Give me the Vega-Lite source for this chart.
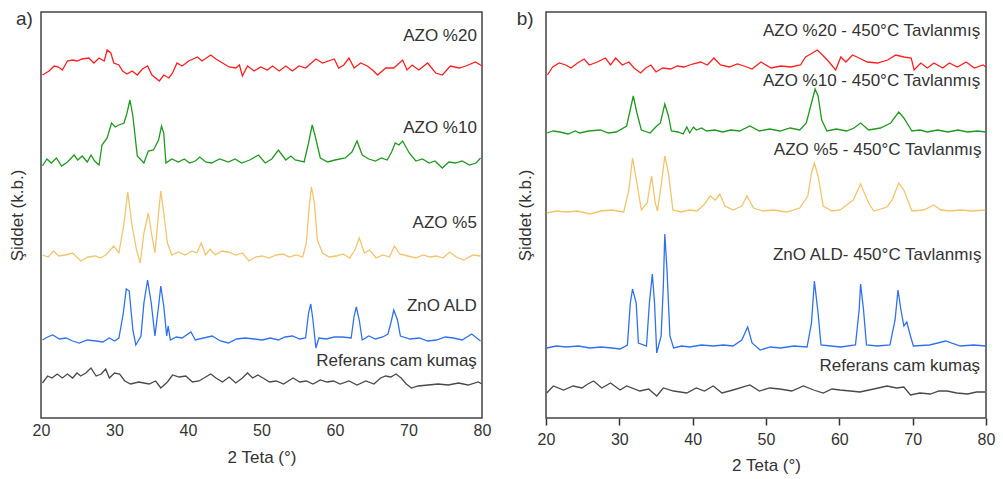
{
"$schema": "https://vega.github.io/schema/vega-lite/v6.json",
"padding": {"left": 7, "top": 9, "right": 5, "bottom": 0},
"spacing": 23,
"config": {"view": {"stroke": "#444", "strokeWidth": 1.5}, "font": "Liberation Sans"},
"datasets": {
"a": [
{"t":20.2,"v":343,"s":"r"},{"t":21.1,"v":347,"s":"r"},{"t":21.8,"v":352,"s":"r"},{"t":22.4,"v":351,"s":"r"},{"t":22.9,"v":348,"s":"r"},{"t":23.6,"v":357,"s":"r"},{"t":24.3,"v":358,"s":"r"},{"t":24.9,"v":357,"s":"r"},{"t":25.6,"v":359,"s":"r"},{"t":26.5,"v":360,"s":"r"},{"t":27.2,"v":355,"s":"r"},{"t":27.9,"v":360,"s":"r"},{"t":28.6,"v":357,"s":"r"},{"t":29.0,"v":368,"s":"r"},{"t":29.5,"v":365,"s":"r"},{"t":29.9,"v":355,"s":"r"},{"t":30.6,"v":353,"s":"r"},{"t":31.1,"v":347,"s":"r"},{"t":31.7,"v":344,"s":"r"},{"t":32.4,"v":347,"s":"r"},{"t":33.1,"v":343,"s":"r"},{"t":33.8,"v":349,"s":"r"},{"t":34.5,"v":352,"s":"r"},{"t":35.1,"v":343,"s":"r"},{"t":36.1,"v":337,"s":"r"},{"t":36.7,"v":343,"s":"r"},{"t":37.4,"v":340,"s":"r"},{"t":37.9,"v":345,"s":"r"},{"t":38.5,"v":355,"s":"r"},{"t":39.2,"v":352,"s":"r"},{"t":40.1,"v":357,"s":"r"},{"t":41.3,"v":361,"s":"r"},{"t":41.9,"v":357,"s":"r"},{"t":43.1,"v":363,"s":"r"},{"t":43.8,"v":359,"s":"r"},{"t":44.7,"v":355,"s":"r"},{"t":45.6,"v":351,"s":"r"},{"t":46.5,"v":350,"s":"r"},{"t":47.0,"v":353,"s":"r"},{"t":47.4,"v":342,"s":"r"},{"t":48.1,"v":352,"s":"r"},{"t":49.0,"v":347,"s":"r"},{"t":49.9,"v":351,"s":"r"},{"t":50.8,"v":348,"s":"r"},{"t":51.5,"v":352,"s":"r"},{"t":52.4,"v":347,"s":"r"},{"t":53.3,"v":352,"s":"r"},{"t":54.2,"v":347,"s":"r"},{"t":55.1,"v":352,"s":"r"},{"t":56.0,"v":350,"s":"r"},{"t":57.4,"v":359,"s":"r"},{"t":58.3,"v":355,"s":"r"},{"t":59.9,"v":359,"s":"r"},{"t":60.5,"v":350,"s":"r"},{"t":61.2,"v":353,"s":"r"},{"t":61.9,"v":360,"s":"r"},{"t":62.6,"v":350,"s":"r"},{"t":63.5,"v":355,"s":"r"},{"t":64.4,"v":352,"s":"r"},{"t":65.1,"v":348,"s":"r"},{"t":65.8,"v":343,"s":"r"},{"t":66.9,"v":350,"s":"r"},{"t":68.0,"v":350,"s":"r"},{"t":69.2,"v":358,"s":"r"},{"t":69.8,"v":348,"s":"r"},{"t":70.5,"v":353,"s":"r"},{"t":71.4,"v":348,"s":"r"},{"t":72.6,"v":355,"s":"r"},{"t":73.7,"v":345,"s":"r"},{"t":74.6,"v":343,"s":"r"},{"t":75.7,"v":352,"s":"r"},{"t":76.9,"v":350,"s":"r"},{"t":77.8,"v":352,"s":"r"},{"t":79.1,"v":356,"s":"r"},{"t":80.0,"v":352,"s":"r"},
{"t":20.2,"v":252,"s":"g"},{"t":20.8,"v":259,"s":"g"},{"t":21.4,"v":255,"s":"g"},{"t":22.1,"v":260,"s":"g"},{"t":22.8,"v":252,"s":"g"},{"t":23.6,"v":256,"s":"g"},{"t":24.5,"v":263,"s":"g"},{"t":25.0,"v":258,"s":"g"},{"t":25.6,"v":262,"s":"g"},{"t":26.3,"v":256,"s":"g"},{"t":26.8,"v":263,"s":"g"},{"t":27.3,"v":257,"s":"g"},{"t":27.9,"v":253,"s":"g"},{"t":28.3,"v":273,"s":"g"},{"t":29.0,"v":280,"s":"g"},{"t":29.6,"v":295,"s":"g"},{"t":30.1,"v":291,"s":"g"},{"t":30.6,"v":293,"s":"g"},{"t":31.3,"v":295,"s":"g"},{"t":31.7,"v":305,"s":"g"},{"t":32.1,"v":318,"s":"g"},{"t":32.5,"v":302,"s":"g"},{"t":33.1,"v":262,"s":"g"},{"t":34.0,"v":255,"s":"g"},{"t":34.6,"v":267,"s":"g"},{"t":35.3,"v":268,"s":"g"},{"t":36.0,"v":278,"s":"g"},{"t":36.4,"v":292,"s":"g"},{"t":36.7,"v":285,"s":"g"},{"t":37.0,"v":255,"s":"g"},{"t":37.8,"v":259,"s":"g"},{"t":38.7,"v":256,"s":"g"},{"t":39.5,"v":259,"s":"g"},{"t":40.2,"v":255,"s":"g"},{"t":41.0,"v":257,"s":"g"},{"t":41.6,"v":261,"s":"g"},{"t":42.4,"v":256,"s":"g"},{"t":43.2,"v":255,"s":"g"},{"t":44.3,"v":259,"s":"g"},{"t":45.5,"v":256,"s":"g"},{"t":46.4,"v":259,"s":"g"},{"t":47.3,"v":255,"s":"g"},{"t":48.4,"v":258,"s":"g"},{"t":49.6,"v":263,"s":"g"},{"t":50.5,"v":255,"s":"g"},{"t":51.4,"v":259,"s":"g"},{"t":52.3,"v":268,"s":"g"},{"t":53.3,"v":258,"s":"g"},{"t":54.0,"v":262,"s":"g"},{"t":54.6,"v":258,"s":"g"},{"t":55.8,"v":256,"s":"g"},{"t":56.4,"v":275,"s":"g"},{"t":56.9,"v":293,"s":"g"},{"t":57.3,"v":282,"s":"g"},{"t":58.0,"v":260,"s":"g"},{"t":59.0,"v":256,"s":"g"},{"t":60.0,"v":258,"s":"g"},{"t":61.4,"v":260,"s":"g"},{"t":62.3,"v":266,"s":"g"},{"t":63.0,"v":277,"s":"g"},{"t":63.7,"v":263,"s":"g"},{"t":64.6,"v":259,"s":"g"},{"t":65.5,"v":257,"s":"g"},{"t":66.3,"v":260,"s":"g"},{"t":67.1,"v":258,"s":"g"},{"t":67.7,"v":266,"s":"g"},{"t":68.2,"v":275,"s":"g"},{"t":68.7,"v":273,"s":"g"},{"t":69.2,"v":277,"s":"g"},{"t":70.1,"v":265,"s":"g"},{"t":71.0,"v":257,"s":"g"},{"t":71.9,"v":259,"s":"g"},{"t":72.8,"v":255,"s":"g"},{"t":73.6,"v":257,"s":"g"},{"t":74.6,"v":250,"s":"g"},{"t":75.5,"v":256,"s":"g"},{"t":76.4,"v":255,"s":"g"},{"t":77.3,"v":257,"s":"g"},{"t":78.3,"v":253,"s":"g"},{"t":79.2,"v":255,"s":"g"},{"t":79.8,"v":260,"s":"g"},
{"t":20.2,"v":163,"s":"y"},{"t":21.0,"v":161,"s":"y"},{"t":21.7,"v":167,"s":"y"},{"t":22.4,"v":162,"s":"y"},{"t":23.3,"v":163,"s":"y"},{"t":24.3,"v":165,"s":"y"},{"t":25.4,"v":157,"s":"y"},{"t":26.4,"v":161,"s":"y"},{"t":27.4,"v":162,"s":"y"},{"t":28.1,"v":160,"s":"y"},{"t":28.8,"v":163,"s":"y"},{"t":29.9,"v":172,"s":"y"},{"t":30.6,"v":165,"s":"y"},{"t":31.3,"v":195,"s":"y"},{"t":31.8,"v":226,"s":"y"},{"t":32.4,"v":192,"s":"y"},{"t":33.0,"v":168,"s":"y"},{"t":33.5,"v":155,"s":"y"},{"t":34.0,"v":185,"s":"y"},{"t":34.6,"v":205,"s":"y"},{"t":35.1,"v":182,"s":"y"},{"t":35.5,"v":165,"s":"y"},{"t":36.0,"v":205,"s":"y"},{"t":36.3,"v":227,"s":"y"},{"t":36.7,"v":205,"s":"y"},{"t":37.2,"v":175,"s":"y"},{"t":37.8,"v":163,"s":"y"},{"t":38.7,"v":166,"s":"y"},{"t":39.6,"v":163,"s":"y"},{"t":40.5,"v":167,"s":"y"},{"t":41.2,"v":165,"s":"y"},{"t":41.8,"v":175,"s":"y"},{"t":42.4,"v":163,"s":"y"},{"t":43.0,"v":169,"s":"y"},{"t":43.7,"v":163,"s":"y"},{"t":44.6,"v":167,"s":"y"},{"t":45.5,"v":166,"s":"y"},{"t":46.5,"v":163,"s":"y"},{"t":47.4,"v":165,"s":"y"},{"t":48.3,"v":157,"s":"y"},{"t":49.2,"v":161,"s":"y"},{"t":50.1,"v":162,"s":"y"},{"t":51.0,"v":160,"s":"y"},{"t":52.0,"v":163,"s":"y"},{"t":52.9,"v":164,"s":"y"},{"t":53.8,"v":161,"s":"y"},{"t":54.7,"v":163,"s":"y"},{"t":55.6,"v":161,"s":"y"},{"t":56.1,"v":175,"s":"y"},{"t":56.5,"v":212,"s":"y"},{"t":56.8,"v":231,"s":"y"},{"t":57.2,"v":215,"s":"y"},{"t":57.6,"v":178,"s":"y"},{"t":58.3,"v":165,"s":"y"},{"t":59.2,"v":161,"s":"y"},{"t":60.2,"v":162,"s":"y"},{"t":61.1,"v":164,"s":"y"},{"t":62.0,"v":160,"s":"y"},{"t":62.7,"v":168,"s":"y"},{"t":63.3,"v":180,"s":"y"},{"t":64.0,"v":165,"s":"y"},{"t":64.7,"v":168,"s":"y"},{"t":65.6,"v":160,"s":"y"},{"t":66.5,"v":163,"s":"y"},{"t":67.4,"v":161,"s":"y"},{"t":68.1,"v":172,"s":"y"},{"t":68.8,"v":164,"s":"y"},{"t":69.9,"v":162,"s":"y"},{"t":71.0,"v":160,"s":"y"},{"t":72.0,"v":163,"s":"y"},{"t":72.9,"v":161,"s":"y"},{"t":73.8,"v":162,"s":"y"},{"t":74.7,"v":160,"s":"y"},{"t":75.6,"v":166,"s":"y"},{"t":76.5,"v":161,"s":"y"},{"t":77.5,"v":158,"s":"y"},{"t":78.8,"v":163,"s":"y"},{"t":79.8,"v":162,"s":"y"},
{"t":20.2,"v":78,"s":"b"},{"t":20.9,"v":81,"s":"b"},{"t":21.6,"v":83,"s":"b"},{"t":22.5,"v":79,"s":"b"},{"t":23.4,"v":80,"s":"b"},{"t":24.3,"v":77,"s":"b"},{"t":25.2,"v":75,"s":"b"},{"t":26.3,"v":78,"s":"b"},{"t":27.5,"v":77,"s":"b"},{"t":28.4,"v":76,"s":"b"},{"t":29.3,"v":80,"s":"b"},{"t":30.0,"v":77,"s":"b"},{"t":30.6,"v":80,"s":"b"},{"t":31.2,"v":105,"s":"b"},{"t":31.6,"v":129,"s":"b"},{"t":32.0,"v":127,"s":"b"},{"t":32.5,"v":88,"s":"b"},{"t":32.9,"v":73,"s":"b"},{"t":33.6,"v":82,"s":"b"},{"t":34.0,"v":115,"s":"b"},{"t":34.5,"v":138,"s":"b"},{"t":35.0,"v":115,"s":"b"},{"t":35.5,"v":82,"s":"b"},{"t":36.0,"v":112,"s":"b"},{"t":36.3,"v":132,"s":"b"},{"t":36.7,"v":112,"s":"b"},{"t":37.1,"v":82,"s":"b"},{"t":37.3,"v":92,"s":"b"},{"t":37.6,"v":78,"s":"b"},{"t":38.4,"v":81,"s":"b"},{"t":39.2,"v":80,"s":"b"},{"t":40.4,"v":86,"s":"b"},{"t":41.0,"v":78,"s":"b"},{"t":42.1,"v":80,"s":"b"},{"t":43.3,"v":82,"s":"b"},{"t":44.4,"v":77,"s":"b"},{"t":45.5,"v":75,"s":"b"},{"t":46.6,"v":79,"s":"b"},{"t":47.8,"v":80,"s":"b"},{"t":49.0,"v":79,"s":"b"},{"t":50.1,"v":78,"s":"b"},{"t":51.2,"v":80,"s":"b"},{"t":52.3,"v":78,"s":"b"},{"t":53.2,"v":81,"s":"b"},{"t":54.2,"v":82,"s":"b"},{"t":55.2,"v":79,"s":"b"},{"t":56.0,"v":80,"s":"b"},{"t":56.4,"v":105,"s":"b"},{"t":56.7,"v":114,"s":"b"},{"t":57.0,"v":98,"s":"b"},{"t":57.4,"v":70,"s":"b"},{"t":57.8,"v":80,"s":"b"},{"t":58.8,"v":79,"s":"b"},{"t":59.9,"v":81,"s":"b"},{"t":61.0,"v":81,"s":"b"},{"t":62.2,"v":80,"s":"b"},{"t":62.6,"v":102,"s":"b"},{"t":62.9,"v":111,"s":"b"},{"t":63.3,"v":98,"s":"b"},{"t":63.7,"v":78,"s":"b"},{"t":64.6,"v":82,"s":"b"},{"t":65.5,"v":79,"s":"b"},{"t":66.5,"v":81,"s":"b"},{"t":67.2,"v":84,"s":"b"},{"t":67.6,"v":95,"s":"b"},{"t":68.0,"v":108,"s":"b"},{"t":68.5,"v":98,"s":"b"},{"t":68.9,"v":82,"s":"b"},{"t":70.2,"v":79,"s":"b"},{"t":71.5,"v":80,"s":"b"},{"t":72.6,"v":77,"s":"b"},{"t":73.8,"v":78,"s":"b"},{"t":75.0,"v":81,"s":"b"},{"t":76.1,"v":80,"s":"b"},{"t":77.3,"v":78,"s":"b"},{"t":78.6,"v":84,"s":"b"},{"t":79.8,"v":77,"s":"b"},
{"t":20.2,"v":35,"s":"k"},{"t":20.9,"v":42,"s":"k"},{"t":21.5,"v":40,"s":"k"},{"t":22.2,"v":44,"s":"k"},{"t":22.9,"v":40,"s":"k"},{"t":23.6,"v":44,"s":"k"},{"t":24.3,"v":40,"s":"k"},{"t":24.9,"v":45,"s":"k"},{"t":25.4,"v":42,"s":"k"},{"t":26.1,"v":45,"s":"k"},{"t":26.8,"v":50,"s":"k"},{"t":27.5,"v":42,"s":"k"},{"t":28.2,"v":44,"s":"k"},{"t":28.8,"v":49,"s":"k"},{"t":29.3,"v":40,"s":"k"},{"t":30.0,"v":45,"s":"k"},{"t":30.7,"v":44,"s":"k"},{"t":31.4,"v":37,"s":"k"},{"t":32.2,"v":34,"s":"k"},{"t":33.3,"v":36,"s":"k"},{"t":34.7,"v":34,"s":"k"},{"t":35.6,"v":37,"s":"k"},{"t":36.3,"v":30,"s":"k"},{"t":37.2,"v":36,"s":"k"},{"t":37.9,"v":43,"s":"k"},{"t":38.8,"v":41,"s":"k"},{"t":39.7,"v":42,"s":"k"},{"t":40.6,"v":36,"s":"k"},{"t":41.5,"v":37,"s":"k"},{"t":42.4,"v":41,"s":"k"},{"t":43.1,"v":44,"s":"k"},{"t":43.8,"v":40,"s":"k"},{"t":44.7,"v":36,"s":"k"},{"t":45.6,"v":41,"s":"k"},{"t":46.5,"v":35,"s":"k"},{"t":47.4,"v":40,"s":"k"},{"t":48.1,"v":45,"s":"k"},{"t":48.8,"v":40,"s":"k"},{"t":49.5,"v":43,"s":"k"},{"t":50.2,"v":40,"s":"k"},{"t":51.1,"v":36,"s":"k"},{"t":52.0,"v":37,"s":"k"},{"t":53.0,"v":34,"s":"k"},{"t":54.3,"v":40,"s":"k"},{"t":55.2,"v":36,"s":"k"},{"t":56.1,"v":37,"s":"k"},{"t":57.0,"v":34,"s":"k"},{"t":58.0,"v":38,"s":"k"},{"t":58.9,"v":36,"s":"k"},{"t":59.8,"v":37,"s":"k"},{"t":60.7,"v":34,"s":"k"},{"t":61.9,"v":37,"s":"k"},{"t":63.0,"v":33,"s":"k"},{"t":64.2,"v":37,"s":"k"},{"t":65.3,"v":34,"s":"k"},{"t":66.2,"v":40,"s":"k"},{"t":66.9,"v":42,"s":"k"},{"t":67.6,"v":41,"s":"k"},{"t":68.3,"v":44,"s":"k"},{"t":69.0,"v":40,"s":"k"},{"t":69.7,"v":34,"s":"k"},{"t":70.4,"v":30,"s":"k"},{"t":71.3,"v":32,"s":"k"},{"t":72.7,"v":33,"s":"k"},{"t":74.0,"v":34,"s":"k"},{"t":75.4,"v":33,"s":"k"},{"t":76.8,"v":35,"s":"k"},{"t":78.1,"v":33,"s":"k"},{"t":79.5,"v":36,"s":"k"},{"t":80.0,"v":34,"s":"k"}
],
"b": [
{"t":20.2,"v":343,"s":"r"},{"t":20.9,"v":351,"s":"r"},{"t":21.8,"v":355,"s":"r"},{"t":22.7,"v":353,"s":"r"},{"t":23.4,"v":350,"s":"r"},{"t":24.3,"v":355,"s":"r"},{"t":25.2,"v":359,"s":"r"},{"t":25.9,"v":353,"s":"r"},{"t":27.0,"v":356,"s":"r"},{"t":28.1,"v":360,"s":"r"},{"t":28.8,"v":353,"s":"r"},{"t":29.5,"v":360,"s":"r"},{"t":30.4,"v":353,"s":"r"},{"t":31.3,"v":356,"s":"r"},{"t":32.0,"v":350,"s":"r"},{"t":32.9,"v":345,"s":"r"},{"t":33.6,"v":350,"s":"r"},{"t":34.3,"v":353,"s":"r"},{"t":35.0,"v":346,"s":"r"},{"t":35.9,"v":350,"s":"r"},{"t":37.0,"v":349,"s":"r"},{"t":37.9,"v":352,"s":"r"},{"t":38.8,"v":351,"s":"r"},{"t":40.0,"v":354,"s":"r"},{"t":41.1,"v":356,"s":"r"},{"t":42.0,"v":353,"s":"r"},{"t":42.9,"v":360,"s":"r"},{"t":43.8,"v":353,"s":"r"},{"t":45.0,"v":351,"s":"r"},{"t":46.1,"v":354,"s":"r"},{"t":47.0,"v":352,"s":"r"},{"t":48.1,"v":349,"s":"r"},{"t":49.3,"v":356,"s":"r"},{"t":50.7,"v":350,"s":"r"},{"t":52.0,"v":352,"s":"r"},{"t":53.4,"v":351,"s":"r"},{"t":54.7,"v":353,"s":"r"},{"t":55.4,"v":361,"s":"r"},{"t":56.1,"v":364,"s":"r"},{"t":57.0,"v":368,"s":"r"},{"t":57.7,"v":363,"s":"r"},{"t":58.6,"v":356,"s":"r"},{"t":59.5,"v":348,"s":"r"},{"t":60.2,"v":361,"s":"r"},{"t":60.9,"v":356,"s":"r"},{"t":61.8,"v":363,"s":"r"},{"t":62.7,"v":360,"s":"r"},{"t":63.8,"v":356,"s":"r"},{"t":65.2,"v":355,"s":"r"},{"t":66.6,"v":358,"s":"r"},{"t":67.7,"v":363,"s":"r"},{"t":68.8,"v":361,"s":"r"},{"t":69.8,"v":360,"s":"r"},{"t":70.2,"v":348,"s":"r"},{"t":71.1,"v":355,"s":"r"},{"t":72.0,"v":350,"s":"r"},{"t":72.9,"v":355,"s":"r"},{"t":74.1,"v":350,"s":"r"},{"t":75.0,"v":355,"s":"r"},{"t":76.1,"v":351,"s":"r"},{"t":77.3,"v":356,"s":"r"},{"t":78.4,"v":350,"s":"r"},{"t":79.6,"v":353,"s":"r"},{"t":80.0,"v":351,"s":"r"},
{"t":20.1,"v":285,"s":"g"},{"t":21.0,"v":287,"s":"g"},{"t":21.9,"v":286,"s":"g"},{"t":23.0,"v":284,"s":"g"},{"t":24.0,"v":287,"s":"g"},{"t":24.6,"v":285,"s":"g"},{"t":25.8,"v":287,"s":"g"},{"t":27.4,"v":288,"s":"g"},{"t":28.5,"v":285,"s":"g"},{"t":29.6,"v":286,"s":"g"},{"t":31.0,"v":292,"s":"g"},{"t":31.6,"v":312,"s":"g"},{"t":31.9,"v":322,"s":"g"},{"t":32.4,"v":305,"s":"g"},{"t":33.0,"v":288,"s":"g"},{"t":34.2,"v":285,"s":"g"},{"t":35.1,"v":292,"s":"g"},{"t":35.6,"v":295,"s":"g"},{"t":36.2,"v":314,"s":"g"},{"t":36.7,"v":302,"s":"g"},{"t":37.1,"v":287,"s":"g"},{"t":38.0,"v":286,"s":"g"},{"t":38.7,"v":284,"s":"g"},{"t":39.2,"v":291,"s":"g"},{"t":39.6,"v":285,"s":"g"},{"t":40.1,"v":291,"s":"g"},{"t":40.5,"v":288,"s":"g"},{"t":41.2,"v":290,"s":"g"},{"t":41.9,"v":287,"s":"g"},{"t":43.0,"v":288,"s":"g"},{"t":44.1,"v":286,"s":"g"},{"t":45.2,"v":288,"s":"g"},{"t":46.4,"v":287,"s":"g"},{"t":47.8,"v":292,"s":"g"},{"t":49.1,"v":287,"s":"g"},{"t":50.5,"v":289,"s":"g"},{"t":51.9,"v":287,"s":"g"},{"t":53.3,"v":290,"s":"g"},{"t":54.6,"v":288,"s":"g"},{"t":55.5,"v":295,"s":"g"},{"t":56.2,"v":315,"s":"g"},{"t":56.7,"v":329,"s":"g"},{"t":57.1,"v":322,"s":"g"},{"t":57.6,"v":298,"s":"g"},{"t":58.3,"v":287,"s":"g"},{"t":59.6,"v":289,"s":"g"},{"t":61.0,"v":287,"s":"g"},{"t":62.0,"v":290,"s":"g"},{"t":62.9,"v":295,"s":"g"},{"t":64.0,"v":288,"s":"g"},{"t":65.6,"v":290,"s":"g"},{"t":67.0,"v":295,"s":"g"},{"t":68.1,"v":306,"s":"g"},{"t":68.8,"v":300,"s":"g"},{"t":69.9,"v":287,"s":"g"},{"t":71.0,"v":288,"s":"g"},{"t":72.0,"v":286,"s":"g"},{"t":73.4,"v":288,"s":"g"},{"t":74.8,"v":286,"s":"g"},{"t":76.2,"v":288,"s":"g"},{"t":77.5,"v":286,"s":"g"},{"t":78.8,"v":287,"s":"g"},{"t":80.0,"v":286,"s":"g"},
{"t":20.1,"v":205,"s":"y"},{"t":21.4,"v":207,"s":"y"},{"t":22.8,"v":206,"s":"y"},{"t":24.3,"v":207,"s":"y"},{"t":26.0,"v":204,"s":"y"},{"t":27.5,"v":207,"s":"y"},{"t":29.0,"v":208,"s":"y"},{"t":30.6,"v":206,"s":"y"},{"t":31.3,"v":228,"s":"y"},{"t":31.8,"v":260,"s":"y"},{"t":32.4,"v":235,"s":"y"},{"t":33.0,"v":208,"s":"y"},{"t":33.8,"v":215,"s":"y"},{"t":34.4,"v":242,"s":"y"},{"t":34.9,"v":215,"s":"y"},{"t":35.2,"v":207,"s":"y"},{"t":35.8,"v":238,"s":"y"},{"t":36.2,"v":262,"s":"y"},{"t":36.7,"v":245,"s":"y"},{"t":37.3,"v":208,"s":"y"},{"t":38.4,"v":206,"s":"y"},{"t":39.6,"v":208,"s":"y"},{"t":40.6,"v":207,"s":"y"},{"t":41.5,"v":213,"s":"y"},{"t":42.4,"v":222,"s":"y"},{"t":43.1,"v":218,"s":"y"},{"t":43.7,"v":224,"s":"y"},{"t":44.4,"v":212,"s":"y"},{"t":45.5,"v":208,"s":"y"},{"t":46.7,"v":212,"s":"y"},{"t":47.4,"v":222,"s":"y"},{"t":48.3,"v":210,"s":"y"},{"t":49.6,"v":207,"s":"y"},{"t":51.0,"v":208,"s":"y"},{"t":52.8,"v":206,"s":"y"},{"t":54.6,"v":210,"s":"y"},{"t":55.7,"v":222,"s":"y"},{"t":56.2,"v":245,"s":"y"},{"t":56.6,"v":255,"s":"y"},{"t":57.1,"v":242,"s":"y"},{"t":57.8,"v":212,"s":"y"},{"t":59.0,"v":207,"s":"y"},{"t":60.1,"v":208,"s":"y"},{"t":61.9,"v":218,"s":"y"},{"t":62.9,"v":234,"s":"y"},{"t":64.0,"v":215,"s":"y"},{"t":64.7,"v":207,"s":"y"},{"t":66.5,"v":211,"s":"y"},{"t":67.2,"v":218,"s":"y"},{"t":68.1,"v":235,"s":"y"},{"t":68.8,"v":228,"s":"y"},{"t":69.9,"v":207,"s":"y"},{"t":71.5,"v":208,"s":"y"},{"t":72.9,"v":213,"s":"y"},{"t":73.8,"v":208,"s":"y"},{"t":75.1,"v":207,"s":"y"},{"t":76.5,"v":208,"s":"y"},{"t":78.2,"v":207,"s":"y"},{"t":79.9,"v":208,"s":"y"},
{"t":20.1,"v":70,"s":"b"},{"t":21.4,"v":72,"s":"b"},{"t":22.8,"v":71,"s":"b"},{"t":24.4,"v":72,"s":"b"},{"t":26.0,"v":70,"s":"b"},{"t":27.5,"v":71,"s":"b"},{"t":29.0,"v":70,"s":"b"},{"t":30.1,"v":69,"s":"b"},{"t":31.1,"v":73,"s":"b"},{"t":31.5,"v":115,"s":"b"},{"t":31.8,"v":129,"s":"b"},{"t":32.3,"v":115,"s":"b"},{"t":32.6,"v":75,"s":"b"},{"t":33.7,"v":72,"s":"b"},{"t":34.1,"v":115,"s":"b"},{"t":34.5,"v":144,"s":"b"},{"t":34.8,"v":115,"s":"b"},{"t":35.1,"v":65,"s":"b"},{"t":35.7,"v":82,"s":"b"},{"t":36.0,"v":132,"s":"b"},{"t":36.2,"v":184,"s":"b"},{"t":36.5,"v":148,"s":"b"},{"t":36.9,"v":82,"s":"b"},{"t":37.4,"v":70,"s":"b"},{"t":38.5,"v":72,"s":"b"},{"t":39.6,"v":71,"s":"b"},{"t":41.2,"v":73,"s":"b"},{"t":42.8,"v":72,"s":"b"},{"t":44.2,"v":73,"s":"b"},{"t":45.5,"v":72,"s":"b"},{"t":46.7,"v":78,"s":"b"},{"t":47.5,"v":91,"s":"b"},{"t":48.1,"v":75,"s":"b"},{"t":49.2,"v":68,"s":"b"},{"t":50.6,"v":71,"s":"b"},{"t":52.0,"v":70,"s":"b"},{"t":53.8,"v":72,"s":"b"},{"t":55.6,"v":71,"s":"b"},{"t":56.2,"v":95,"s":"b"},{"t":56.6,"v":137,"s":"b"},{"t":57.1,"v":105,"s":"b"},{"t":57.5,"v":73,"s":"b"},{"t":58.8,"v":72,"s":"b"},{"t":60.2,"v":71,"s":"b"},{"t":62.2,"v":73,"s":"b"},{"t":62.7,"v":108,"s":"b"},{"t":62.9,"v":134,"s":"b"},{"t":63.3,"v":108,"s":"b"},{"t":63.7,"v":73,"s":"b"},{"t":65.2,"v":72,"s":"b"},{"t":66.9,"v":73,"s":"b"},{"t":67.6,"v":98,"s":"b"},{"t":68.0,"v":128,"s":"b"},{"t":68.4,"v":108,"s":"b"},{"t":68.8,"v":92,"s":"b"},{"t":69.2,"v":96,"s":"b"},{"t":69.7,"v":82,"s":"b"},{"t":70.1,"v":72,"s":"b"},{"t":72.3,"v":73,"s":"b"},{"t":74.5,"v":77,"s":"b"},{"t":76.5,"v":72,"s":"b"},{"t":78.3,"v":73,"s":"b"},{"t":80.0,"v":72,"s":"b"},
{"t":20.1,"v":25,"s":"k"},{"t":21.0,"v":32,"s":"k"},{"t":22.4,"v":28,"s":"k"},{"t":23.7,"v":32,"s":"k"},{"t":24.9,"v":30,"s":"k"},{"t":25.7,"v":34,"s":"k"},{"t":26.5,"v":37,"s":"k"},{"t":27.6,"v":30,"s":"k"},{"t":28.8,"v":35,"s":"k"},{"t":30.1,"v":28,"s":"k"},{"t":31.0,"v":32,"s":"k"},{"t":32.8,"v":27,"s":"k"},{"t":34.0,"v":29,"s":"k"},{"t":35.1,"v":22,"s":"k"},{"t":36.0,"v":30,"s":"k"},{"t":37.4,"v":27,"s":"k"},{"t":39.2,"v":25,"s":"k"},{"t":40.5,"v":30,"s":"k"},{"t":41.6,"v":27,"s":"k"},{"t":42.8,"v":32,"s":"k"},{"t":44.0,"v":25,"s":"k"},{"t":45.5,"v":28,"s":"k"},{"t":47.8,"v":33,"s":"k"},{"t":49.1,"v":27,"s":"k"},{"t":50.5,"v":30,"s":"k"},{"t":51.9,"v":29,"s":"k"},{"t":53.5,"v":27,"s":"k"},{"t":55.1,"v":32,"s":"k"},{"t":56.5,"v":28,"s":"k"},{"t":57.8,"v":25,"s":"k"},{"t":59.0,"v":29,"s":"k"},{"t":60.1,"v":28,"s":"k"},{"t":61.5,"v":27,"s":"k"},{"t":62.8,"v":26,"s":"k"},{"t":64.7,"v":29,"s":"k"},{"t":66.5,"v":32,"s":"k"},{"t":67.8,"v":30,"s":"k"},{"t":68.8,"v":31,"s":"k"},{"t":69.7,"v":23,"s":"k"},{"t":71.0,"v":25,"s":"k"},{"t":72.4,"v":24,"s":"k"},{"t":73.6,"v":27,"s":"k"},{"t":74.7,"v":27,"s":"k"},{"t":76.0,"v":25,"s":"k"},{"t":77.5,"v":24,"s":"k"},{"t":78.7,"v":26,"s":"k"},{"t":79.9,"v":26,"s":"k"}
],
"la": [
{"t":79.3,"v":382,"label":"AZO %20"},{"t":79.3,"v":290,"label":"AZO %10"},{"t":79.3,"v":195,"label":"AZO %5"},{"t":79.3,"v":112,"label":"ZnO ALD"},{"t":79.3,"v":57,"label":"Referans cam kumaş"}
],
"lb": [
{"t":79.2,"v":387,"label":"AZO %20 - 450°C Tavlanmış"},{"t":79.2,"v":337,"label":"AZO %10 - 450°C Tavlanmış"},{"t":79.4,"v":268,"label":"AZO %5 - 450°C Tavlanmış"},{"t":79.4,"v":163,"label":"ZnO ALD- 450°C Tavlanmış"},{"t":79.2,"v":52,"label":"Referans cam kumaş"}
],
"pa": [{"t":16.6,"v":393,"label":"a)"}],
"pb": [{"t":16.0,"v":393,"label":"b)"}]
},
"hconcat": [
{
"width": 441, "height": 406,
"layer": [
{"data": {"name": "a"}, "mark": {"type": "line", "strokeWidth": 1.3},
"encoding": {
"x": {"field": "t", "type": "quantitative", "scale": {"domain": [20, 80], "nice": false, "zero": false},
"axis": {"values": [20,30,40,50,60,70,80], "title": "2 Teta (°)", "domain": false, "ticks": false, "grid": false, "labelFontSize": 16, "titleFontSize": 17, "titleFontWeight": "normal", "labelColor": "#333", "titleColor": "#333", "labelPadding": 4, "titlePadding": 11, "labelFlush": false, "labelOverlap": false}},
"y": {"field": "v", "type": "quantitative", "scale": {"domain": [0, 406], "nice": false},
"axis": {"title": "Şiddet (k.b.)", "labels": false, "ticks": false, "domain": false, "grid": false, "titleFontSize": 17, "titleFontWeight": "normal", "titleColor": "#333", "titlePadding": 15}},
"color": {"field": "s", "type": "nominal", "legend": null, "scale": {"domain": ["r","g","y","b","k"], "range": ["#ff1f1f","#1f9a1f","#f3c46c","#2f72ee","#4a4a4a"]}}
}},
{"data": {"name": "la"}, "mark": {"type": "text", "align": "right", "baseline": "middle", "fontSize": 17, "color": "#333"},
"encoding": {"x": {"field": "t", "type": "quantitative"}, "y": {"field": "v", "type": "quantitative"}, "text": {"field": "label"}}},
{"data": {"name": "pa"}, "mark": {"type": "text", "align": "left", "baseline": "alphabetic", "fontSize": 19, "color": "#333"},
"encoding": {"x": {"field": "t", "type": "quantitative"}, "y": {"field": "v", "type": "quantitative"}, "text": {"field": "label"}}}
]
},
{
"width": 440, "height": 406,
"layer": [
{"data": {"name": "b"}, "mark": {"type": "line", "strokeWidth": 1.3},
"encoding": {
"x": {"field": "t", "type": "quantitative", "scale": {"domain": [20, 80], "nice": false, "zero": false},
"axis": {"values": [20,25,30,35,40,45,50,55,60,65,70,75,80], "labelExpr": "datum.value % 10 === 0 ? datum.label : ''", "title": "2 Teta (°)", "domain": false, "ticks": true, "tickColor": "#333", "tickWidth": 1.5, "tickSize": {"condition": {"test": "datum.value % 10 === 0", "value": 7}, "value": 3}, "grid": false, "labelFontSize": 16, "titleFontSize": 17, "titleFontWeight": "normal", "labelColor": "#333", "titleColor": "#333", "labelPadding": 6, "titlePadding": 10, "labelFlush": false, "labelOverlap": false}},
"y": {"field": "v", "type": "quantitative", "scale": {"domain": [0, 406], "nice": false},
"axis": {"title": "Şiddet (k.b.)", "labels": false, "ticks": false, "domain": false, "grid": false, "titleFontSize": 17, "titleFontWeight": "normal", "titleColor": "#333", "titlePadding": 12}},
"color": {"field": "s", "type": "nominal", "legend": null, "scale": {"domain": ["r","g","y","b","k"], "range": ["#ff1f1f","#1f9a1f","#f3c46c","#2f72ee","#4a4a4a"]}}
}},
{"data": {"name": "lb"}, "mark": {"type": "text", "align": "right", "baseline": "middle", "fontSize": 17, "color": "#333"},
"encoding": {"x": {"field": "t", "type": "quantitative"}, "y": {"field": "v", "type": "quantitative"}, "text": {"field": "label"}}},
{"data": {"name": "pb"}, "mark": {"type": "text", "align": "left", "baseline": "alphabetic", "fontSize": 19, "color": "#333"},
"encoding": {"x": {"field": "t", "type": "quantitative"}, "y": {"field": "v", "type": "quantitative"}, "text": {"field": "label"}}}
]
}
]
}
